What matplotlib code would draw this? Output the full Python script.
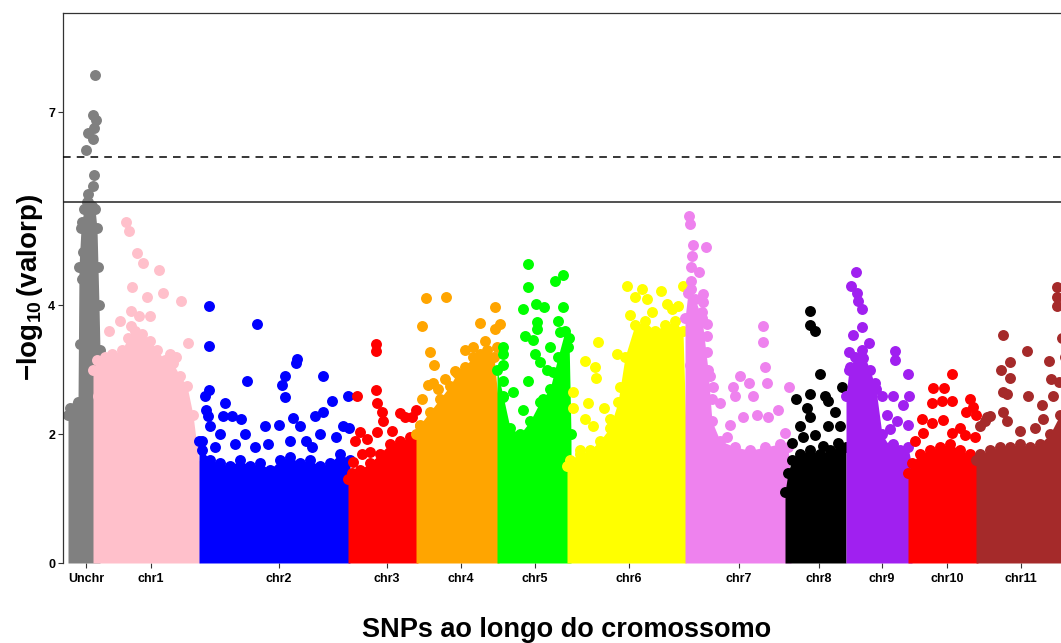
import matplotlib
matplotlib.use("Agg")
import matplotlib.pyplot as plt
import numpy as np

plt.rcParams['font.family'] = ['Liberation Sans', 'DejaVu Sans']
plt.rcParams['font.weight'] = 'bold'
plt.rcParams['mathtext.fontset'] = 'custom'
plt.rcParams['mathtext.rm'] = 'Liberation Sans:bold'
plt.rcParams['mathtext.it'] = 'Liberation Sans:bold'
plt.rcParams['mathtext.bf'] = 'Liberation Sans:bold'

# ---------------- data (cumulative position units, -log10 p) ----------------
chrom_names = ["Unchr", "chr1", "chr2", "chr3", "chr4", "chr5", "chr6",
               "chr7", "chr8", "chr9", "chr10", "chr11"]
chrom_colors = ["#808080", "#FFC0CB", "#0000FF", "#FF0000", "#FFA500", "#00FF00",
                "#FFFF00", "#EE82EE", "#000000", "#A020F0", "#FF0000", "#A52A2A"]
chrom_mid = [86, 151, 279, 387, 461, 535, 629, 739, 819, 882, 947, 1021]

# dense-band upper envelope (position, -log10 p) per chromosome
unchr_env_x = [68, 70, 75, 77, 78, 79, 81, 84, 88, 92, 95, 97, 98, 99, 100]
unchr_env_y = [2.3, 2.4, 2.4, 2.45, 2.5, 4.6, 5.2, 5.5, 5.6, 5.55, 5.5, 5.2, 4.6, 4.0, 3.3]
chr1_env_x = [93, 97, 105, 115, 122, 128, 135, 142, 150, 157, 165, 173, 180, 187, 193, 197, 200]
chr1_env_y = [3.0, 3.15, 3.2, 3.2, 3.3, 3.5, 3.6, 3.55, 3.45, 3.3, 3.15, 3.1, 2.9, 2.75, 2.3, 1.8, 1.5]
chr2_env_x = [199, 202, 210, 220, 230, 240, 250, 260, 270, 280, 290, 300, 310, 320, 330, 340, 350]
chr2_env_y = [1.9, 1.75, 1.6, 1.55, 1.5, 1.6, 1.5, 1.55, 1.45, 1.6, 1.65, 1.55, 1.6, 1.5, 1.55, 1.7, 1.6]
chr3_env_x = [348, 352, 360, 370, 380, 390, 400, 410, 418]
chr3_env_y = [1.3, 1.4, 1.45, 1.55, 1.7, 1.85, 1.9, 1.95, 1.95]
chr4_env_x = [416, 420, 430, 440, 450, 457, 465, 473, 480, 487, 494, 499]
chr4_env_y = [2.0, 2.15, 2.35, 2.55, 2.75, 2.95, 3.05, 3.2, 3.25, 3.3, 3.2, 2.4]
chr5_env_x = [497, 503, 510, 520, 530, 540, 550, 558, 565, 569, 571]
chr5_env_y = [3.0, 2.6, 2.1, 2.0, 2.2, 2.5, 2.7, 3.2, 3.6, 3.5, 2.0]
chr6_env_x = [567, 570, 580, 590, 600, 610, 618, 625, 635, 645, 655, 665, 675, 683, 686]
chr6_env_y = [1.5, 1.6, 1.7, 1.75, 1.9, 2.1, 2.5, 3.2, 3.7, 3.75, 3.6, 3.7, 3.75, 3.6, 2.0]
chr7_env_x = [685, 688, 695, 702, 708, 712, 720, 735, 750, 765, 780, 788, 791]
chr7_env_y = [3.8, 4.2, 4.1, 3.8, 3.0, 2.2, 1.9, 1.8, 1.75, 1.8, 1.85, 1.8, 1.2]
chr8_env_x = [785, 788, 792, 800, 810, 820, 830, 840, 846]
chr8_env_y = [1.1, 1.4, 1.6, 1.7, 1.75, 1.7, 1.75, 1.8, 1.8]
chr9_env_x = [846, 849, 855, 862, 870, 876, 882, 890, 900, 908, 912]
chr9_env_y = [2.6, 3.0, 3.2, 3.3, 3.0, 2.7, 2.0, 1.8, 1.75, 1.8, 1.5]
chr10_env_x = [908, 912, 920, 930, 940, 950, 960, 970, 978]
chr10_env_y = [1.4, 1.55, 1.7, 1.75, 1.8, 1.85, 1.75, 1.7, 1.6]
chr11_env_x = [976, 980, 990, 1000, 1010, 1020, 1030, 1040, 1050, 1060, 1071]
chr11_env_y = [1.6, 1.7, 1.75, 1.8, 1.8, 1.85, 1.8, 1.85, 2.0, 2.3, 2.5]

# individual SNPs standing out above the dense band
unchr_pts_x = [95, 93, 96, 94, 93, 88, 86, 94, 93, 88, 87, 82, 83, 82, 80, 85, 91]
unchr_pts_y = [7.57, 6.95, 6.88, 6.76, 6.59, 6.67, 6.42, 6.03, 5.86, 5.73, 5.60,
               5.30, 4.83, 4.41, 3.40, 4.6, 5.1]
chr1_pts_x = [126, 129, 137, 143, 159, 132, 163, 147, 181, 131, 139, 150, 109, 131, 188, 98,
              120, 170, 176, 112]
chr1_pts_y = [5.30, 5.16, 4.81, 4.66, 4.55, 4.28, 4.20, 4.13, 4.07, 3.91, 3.83, 3.83,
              3.60, 3.68, 3.41, 2.59, 3.75, 3.25, 3.2, 3.25]
chr2_pts_x = [209, 257, 209, 297, 323, 285, 247, 282, 285, 209, 205, 332, 225, 206, 323, 315,
              293, 208, 223, 232, 241, 265, 279, 210, 300, 348, 343, 245, 220, 202, 320,
              296, 349, 268, 306, 336, 215, 235, 255, 290, 312]
chr2_pts_y = [3.99, 3.71, 3.37, 3.16, 2.91, 2.91, 2.82, 2.76, 2.57, 2.69, 2.59, 2.51, 2.48,
              2.38, 2.34, 2.28, 2.25, 2.28, 2.28, 2.28, 2.24, 2.12, 2.15, 2.12, 2.12, 2.59,
              2.12, 2.0, 2.0, 1.9, 2.0, 3.1, 2.1, 1.85, 1.9, 1.95, 1.8, 1.85, 1.8, 1.9, 1.8]
chr3_pts_x = [376, 376, 357, 376, 377, 382, 383, 377, 360, 367, 355, 400, 412, 416, 405,
              370, 353, 392, 362]
chr3_pts_y = [3.40, 3.29, 2.59, 2.68, 2.49, 2.35, 2.20, 2.04, 2.04, 1.92, 1.89, 2.33, 2.26,
              2.38, 2.26, 1.73, 1.57, 2.05, 1.7]
chr4_pts_x = [426, 446, 495, 422, 480, 500, 495, 430, 434, 473, 497, 428, 433, 422, 455,
              420, 465, 445, 485, 438]
chr4_pts_y = [4.11, 4.13, 3.97, 3.68, 3.72, 3.71, 3.63, 3.27, 3.07, 3.36, 3.36, 2.77, 2.80,
              2.54, 2.98, 2.12, 3.3, 2.85, 3.45, 2.7]
chr5_pts_x = [528, 563, 555, 528, 523, 536, 544, 563, 537, 537, 525, 533, 503, 503, 503,
              503, 503, 513, 535, 550, 560, 568, 540, 528, 553, 543, 523, 547, 558]
chr5_pts_y = [4.64, 4.47, 4.38, 4.28, 3.94, 4.02, 3.97, 3.97, 3.74, 3.63, 3.52, 3.47, 3.36,
              3.24, 3.08, 2.82, 2.57, 2.65, 3.24, 3.36, 3.58, 3.36, 3.12, 2.82, 2.96, 2.54,
              2.38, 3.0, 3.75]
chr6_pts_x = [627, 642, 661, 683, 635, 647, 667, 678, 598, 585, 595, 596, 617, 573, 573,
              588, 620, 585, 593, 580, 610, 652, 672, 630, 604]
chr6_pts_y = [4.30, 4.25, 4.22, 4.30, 4.13, 4.10, 4.02, 3.99, 3.43, 3.13, 3.05, 2.88, 3.24,
              2.65, 2.41, 2.49, 2.74, 2.23, 2.12, 1.76, 2.23, 3.9, 3.95, 3.85, 2.4]
chr7_pts_x = [689, 690, 693, 706, 692, 691, 699, 691, 691, 703, 703, 702, 690, 707, 707,
              697, 707, 690, 763, 763, 765, 740, 749, 733, 735, 789, 710, 713, 753, 767,
              778, 712, 720, 730, 743, 757, 768, 785, 705, 727]
chr7_pts_y = [5.39, 5.27, 4.93, 4.90, 4.77, 4.60, 4.52, 4.38, 4.25, 4.17, 4.05, 3.89, 3.82,
              3.71, 3.52, 3.27, 3.27, 3.08, 3.68, 3.43, 3.05, 2.90, 2.80, 2.74, 2.59, 2.74,
              2.90, 2.74, 2.59, 2.80, 2.38, 2.54, 2.49, 2.15, 2.26, 2.30, 2.26, 2.02, 2.28,
              1.96]
chr8_pts_x = [810, 810, 815, 820, 842, 796, 810, 825, 828, 835, 807, 810, 800, 828, 840,
              792, 803, 815, 823, 838]
chr8_pts_y = [3.91, 3.69, 3.61, 2.94, 2.74, 2.55, 2.63, 2.59, 2.51, 2.35, 2.41, 2.26, 2.12,
              2.12, 2.12, 1.87, 1.96, 1.99, 1.81, 1.87]
chr9_pts_x = [856, 851, 857, 858, 862, 862, 853, 869, 849, 863, 850, 895, 895, 908, 875,
              882, 893, 909, 903, 887, 908, 897, 890, 893]
chr9_pts_y = [4.52, 4.30, 4.20, 4.07, 3.95, 3.67, 3.54, 3.41, 3.27, 3.19, 3.04, 3.29, 3.15,
              2.94, 2.80, 2.59, 2.59, 2.59, 2.46, 2.30, 2.15, 2.20, 2.08, 1.85]
chr10_pts_x = [952, 933, 944, 970, 973, 932, 942, 952, 922, 932, 943, 966, 976, 923, 952,
               965, 975, 915, 960]
chr10_pts_y = [2.93, 2.71, 2.71, 2.55, 2.43, 2.48, 2.51, 2.51, 2.24, 2.18, 2.22, 2.34, 2.30,
               2.02, 2.02, 1.99, 1.96, 1.9, 2.1]
chr11_pts_x = [1003, 1027, 1010, 1049, 1001, 1010, 1051, 1003, 1007, 1028, 1042, 990, 1003,
               1043, 985, 1007, 1057, 1057, 1057, 1059, 1053, 987, 980, 1020, 1035, 1062,
               1065, 1066]
chr11_pts_y = [3.54, 3.29, 3.12, 3.13, 2.99, 2.88, 2.85, 2.66, 2.63, 2.59, 2.46, 2.29, 2.34,
               2.23, 2.20, 2.20, 4.28, 4.13, 3.99, 2.81, 2.59, 2.27, 2.12, 2.05, 2.1, 3.5,
               3.2, 2.9]

sig_line = 5.6       # suggestive threshold (solid)
bonf_line = 6.3      # genome-wide threshold (dashed)

env_x = [unchr_env_x, chr1_env_x, chr2_env_x, chr3_env_x, chr4_env_x, chr5_env_x,
         chr6_env_x, chr7_env_x, chr8_env_x, chr9_env_x, chr10_env_x, chr11_env_x]
env_y = [unchr_env_y, chr1_env_y, chr2_env_y, chr3_env_y, chr4_env_y, chr5_env_y,
         chr6_env_y, chr7_env_y, chr8_env_y, chr9_env_y, chr10_env_y, chr11_env_y]
pts_x = [unchr_pts_x, chr1_pts_x, chr2_pts_x, chr3_pts_x, chr4_pts_x, chr5_pts_x,
         chr6_pts_x, chr7_pts_x, chr8_pts_x, chr9_pts_x, chr10_pts_x, chr11_pts_x]
pts_y = [unchr_pts_y, chr1_pts_y, chr2_pts_y, chr3_pts_y, chr4_pts_y, chr5_pts_y,
         chr6_pts_y, chr7_pts_y, chr8_pts_y, chr9_pts_y, chr10_pts_y, chr11_pts_y]

# ---------------- figure ----------------
W, H = 1061, 643
fig = plt.figure(figsize=(W / 100, H / 100), dpi=100)
ax = fig.add_axes([63 / W, 80 / H, (1071 - 63) / W, (563 - 13) / H])

msize = 62
for i in range(len(chrom_names)):
    c = chrom_colors[i]
    ex, ey = env_x[i], env_y[i]
    ax.fill_between(ex, 0, ey, color=c, linewidth=0, zorder=2 + i * 0.01)
    ax.scatter(ex, ey, s=msize, color=c, linewidths=0, zorder=2 + i * 0.01)
    ax.scatter(pts_x[i], pts_y[i], s=msize, color=c, linewidths=0, zorder=2 + i * 0.01)

ax.axhline(bonf_line, color="black", lw=1.1, ls=(0, (5, 4)), zorder=5)
ax.axhline(sig_line, color="#222222", lw=1.1, zorder=5)

ax.set_xlim(63, 1071)
ax.set_ylim(0, 8.54)
ax.set_xticks(chrom_mid)
ax.set_xticklabels(chrom_names, fontsize=9, fontweight="bold")
ax.set_yticks([0, 2, 4, 7])
ax.set_yticklabels(["0", "2", "4", "7"], fontsize=9, fontweight="bold")
ax.tick_params(axis="both", length=3.5, width=0.8, color="#333333", pad=2)
ax.tick_params(axis="x", pad=4)

for s in ["bottom", "right"]:
    ax.spines[s].set_visible(False)
for s in ["left", "top"]:
    ax.spines[s].set_color("#333333")
    ax.spines[s].set_linewidth(0.9)

ax.set_ylabel(r"$-\log_{10}(\mathrm{valorp})$", fontsize=20, labelpad=2)
ax.set_xlabel("SNPs ao longo do cromossomo", fontsize=19.5, fontweight="bold", labelpad=23)

fig.savefig("out.png", dpi=100)
